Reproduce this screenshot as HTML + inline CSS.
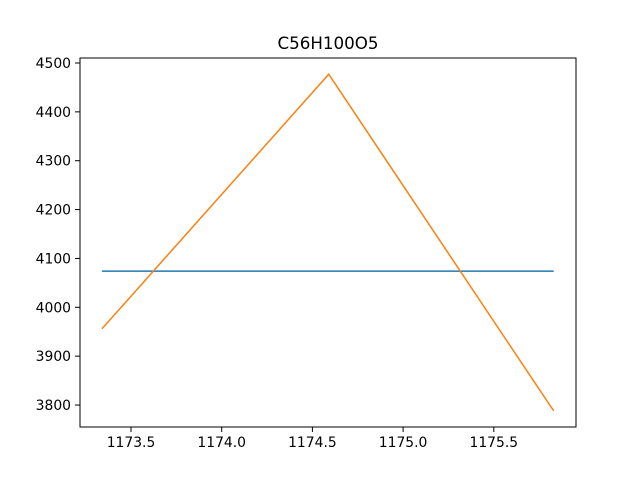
<!DOCTYPE html>
<html><head><meta charset="utf-8"><style>body{margin:0;background:#fff}svg{display:block}text{font-family:"DejaVu Sans","Liberation Sans",sans-serif}</style></head>
<body>
<svg id="chart" width="640" height="480">
<rect width="640" height="480" fill="#fff"/>
<text x="328" y="49" text-anchor="middle" font-size="16.7">C56H100O5</text>
<g id="xt"></g><g id="yt"></g><g id="lines"></g>
<rect x="80" y="58" width="496" height="369" fill="none" stroke="#000" stroke-width="1"/>
</svg>
<script>
const xTicks=[1173.5,1174.0,1174.5,1175.0,1175.5];
const yTicks=[3800,3900,4000,4100,4200,4300,4400,4500];
const blueX=[1173.34,1175.83];
const blueY=[4074,4074];
const orangeX=[1173.34,1174.59,1175.83];
const orangeY=[3956,4477,3788];
const sx=v=>221.7+(v-1174)*181.4;
const sy=v=>63+(4500-v)*0.4886;
const NS="http://www.w3.org/2000/svg";
function mk(t,a,p){const e=document.createElementNS(NS,t);for(const k in a)e.setAttribute(k,a[k]);p.appendChild(e);return e;}
const xt=document.getElementById('xt'),yt=document.getElementById('yt'),lg=document.getElementById('lines');
xTicks.forEach(v=>{const x=sx(v);
const l=mk('line',{x1:x,x2:x,y1:427,y2:432,stroke:'#000'},xt);


const t=mk('text',{x:x,y:447,'text-anchor':'middle','font-size':13.9},xt);t.textContent=v.toFixed(1);

});
yTicks.forEach(v=>{const y=sy(v);
const l=mk('line',{x1:75,x2:80,y1:y,y2:y,stroke:'#000'},yt);


const t=mk('text',{x:71,y:y+5,'text-anchor':'end','font-size':13.9},yt);t.textContent=v;

});
function line(xs,ys,c,n){const p=mk('polyline',{points:xs.map((x,i)=>sx(x)+','+sy(ys[i])).join(' '),fill:'none',stroke:c,'stroke-width':1.5},lg);

}
line(blueX,blueY,'#1f77b4','series-blue');
line(orangeX,orangeY,'#ff7f0e','series-orange');
</script>
</body></html>
